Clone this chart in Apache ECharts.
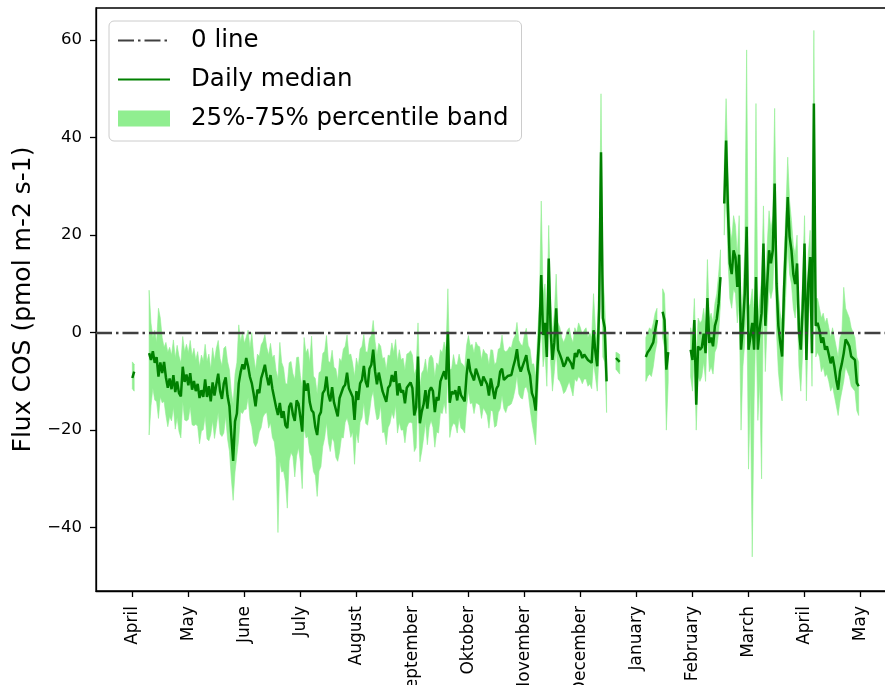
<!DOCTYPE html>
<html>
<head>
<meta charset="utf-8">
<script src="https://cdn.jsdelivr.net/npm/echarts@6/dist/echarts.min.js"></script>
<style>
html,body{margin:0;padding:0;background:#fff;}
#c{width:885px;height:685px;}
</style>
</head>
<body>
<div id="c"></div>
<script>
// x tick positions (day index) and labels
const tickDays = [0, 30, 60, 90, 120, 150, 180, 210, 240, 270, 300, 330, 360, 390];
const tickLabels = ['April', 'May', 'June', 'July', 'August', 'September', 'Oktober', 'November', 'December', 'January', 'February', 'March', 'April', 'May'];
const yTicks = [-40, -20, 0, 20, 40, 60];

// daily median (index = day since first April tick)
const median = [
-9.3,-8.0,null,null,null,null,null,null,null,-4.2,
-5.6,-3.8,-6.2,-5.0,-9.0,-6.1,-8.3,-6.0,-9.2,-11.3,
-9.4,-11.6,-8.7,-12.2,-10.0,-12.4,-13.1,-7.0,-10.1,-8.6,
-10.8,-8.3,-11.7,-9.9,-12.0,-10.5,-13.4,-11.8,-13.2,-9.6,
-13.2,-11.0,-14.1,-10.2,-12.9,-10.6,-8.4,-12.0,-13.6,-10.4,
-9.2,-13.0,-15.1,-21.0,-26.3,-18.2,-16.6,-10.4,-8.1,-6.5,
-7.5,-5.2,-6.9,-9.1,-10.4,-12.6,-15.1,-11.7,-12.4,-9.4,
-8.1,-6.6,-9.0,-10.8,-8.7,-11.5,-11.4,-15.3,-16.9,-14.4,
-17.5,-16.1,-19.0,-19.6,-15.2,-14.4,-16.8,-18.1,-13.9,-14.6,
-17.3,-20.3,-9.8,-11.9,-10.4,-14.2,-15.9,-16.4,-19.4,-21.0,
-17.1,-16.3,-12.4,-11.8,-9.0,-12.7,-14.1,-11.2,-14.3,-14.6,
-17.2,-13.4,-13.5,-11.2,-10.7,-8.2,-11.4,-11.0,-13.2,-17.9,
-12.0,-13.8,-10.4,-9.7,-6.8,-10.1,-11.2,-7.4,-6.6,-3.5,
-7.9,-10.6,-8.2,-8.4,-12.0,-11.6,-14.2,-11.3,-10.8,-8.7,
-10.1,-7.9,-12.9,-10.4,-12.3,-11.8,-14.5,-11.3,-10.9,-10.2,
-11.4,-17.0,-15.3,-4.9,-18.6,-16.2,-14.7,-11.8,-15.6,-12.0,
-11.2,-12.0,-16.3,-13.2,-13.9,-10.0,-10.4,-7.9,-9.6,0.2,
-14.4,-12.1,-12.6,-11.8,-13.9,-11.0,-12.8,-13.0,-14.1,-8.7,
-5.4,-7.9,-7.6,-9.8,-7.4,-8.5,-8.3,-10.9,-9.0,-9.8,
-10.6,-12.9,-9.4,-9.7,-13.6,-11.5,-10.8,-8.0,-7.4,-9.7,
-10.0,-8.9,-8.5,-8.7,-7.0,-5.6,-3.4,-6.7,-8.0,-7.6,
-5.8,-4.6,-7.5,-8.8,-12.4,-13.5,-16.0,-7.0,0.0,11.8,
-0.5,2.0,-5.0,15.2,0.7,-5.6,-2.0,5.0,-3.5,-4.5,
-5.6,-7.0,-6.3,-5.0,-4.9,-6.3,-7.5,-4.2,-5.0,-3.5,
-4.0,-5.2,-4.5,-4.2,-5.6,-5.5,-6.2,0.5,-4.0,-6.9,
5.0,37.0,3.0,1.0,-10.0,null,null,null,null,-5.2,
-5.6,-6.0,null,null,null,null,null,null,null,null,
null,null,null,null,null,-5.0,-4.0,-3.5,-3.8,-2.0,
0.5,2.6,null,null,4.3,2.6,-7.6,-4.0,null,null,
null,null,null,null,null,null,null,null,null,-3.5,
-5.6,2.6,-14.8,-2.8,-3.5,-3.0,-0.2,-4.2,7.1,-2.1,
-1.0,-2.8,1.4,2.8,6.0,11.4,null,26.5,39.4,25.0,
14.2,12.0,16.9,15.5,9.4,16.0,-3.5,1.4,8.0,21.7,
-3.5,-0.9,2.0,-3.5,11.4,-3.5,0.8,4.0,18.3,1.4,
10.0,16.9,14.2,16.9,30.6,10.0,1.4,-2.1,-4.9,8.7,
18.0,27.8,19.7,16.9,12.0,10.0,14.2,0.5,-3.5,5.0,
18.3,-5.6,10.0,15.5,-4.2,47.0,1.4,2.0,0.5,-2.1,
-1.0,-3.5,-2.8,-4.5,-6.3,-4.9,-7.0,-9.7,-11.7,-8.0,
-6.3,-4.2,-1.4,-2.0,-2.8,-4.9,-5.0,-5.6,-10.3,-11.0
];

// 75th percentile
const q75 = [
-6.0,-6.5,null,null,null,null,null,null,null,8.7,
2.0,-1.0,0.5,-2.0,5.0,3.0,-1.0,-3.0,-2.0,-4.0,
-3.0,-4.6,-1.5,-5.2,-2.6,-4.8,-6.2,-0.8,-3.9,-2.4,
-4.1,-1.6,-4.8,-3.2,-5.6,-3.9,-7.0,-4.6,-5.8,-2.4,
-5.9,-4.4,-7.5,-3.1,-5.7,-3.2,-1.6,-5.3,-6.8,-3.2,
-2.8,-5.9,-7.6,-12.0,-14.6,-8.5,-6.1,1.6,-1.9,0.2,
-2.2,-0.9,0.5,-3.1,0.0,-4.8,-7.6,-4.4,-4.9,-2.5,
-1.8,-0.4,-3.0,-4.6,-2.2,-5.1,-4.6,-7.8,-9.4,-2.0,
-6.1,-7.2,-10.4,-10.6,-6.2,-5.9,-8.4,-9.6,-5.1,-5.0,
-8.8,-11.4,-1.0,-4.2,-3.3,-6.1,-0.7,-8.9,-9.4,-12.6,
-8.2,-7.9,-4.3,-3.8,-0.6,-5.8,-6.2,-3.6,-7.1,-7.4,
-9.8,-5.3,-5.9,-3.4,-2.8,-0.5,-4.6,-4.4,-6.3,-9.0,
-5.2,-6.9,-3.4,-2.8,-0.4,-3.9,-4.0,-1.2,-0.6,2.5,
-1.8,-4.6,-2.2,-2.8,-5.3,-5.1,-7.6,-4.6,-4.8,-2.1,
-4.1,-1.4,-5.9,-3.5,-5.6,-5.2,-7.7,-4.4,-4.2,-3.7,
-4.6,-8.6,-7.4,2.0,-11.2,-8.3,-7.6,-5.4,-8.5,-5.2,
-4.6,-5.3,-9.1,-6.2,-6.8,-3.5,-4.1,-1.9,-3.6,9.0,
-7.6,-7.4,-4.5,-6.6,-6.6,-4.4,-6.2,-6.5,-7.2,-2.6,
-0.6,-2.7,-2.4,-4.2,-1.9,-2.7,-2.9,-5.6,-3.4,-4.2,
-4.4,-6.6,-3.5,-3.6,-6.6,-6.0,-3.4,-3.1,-0.5,-3.6,
-3.9,-3.6,-2.9,-3.1,-1.4,-0.6,2.1,-1.6,-2.4,-2.7,
-0.4,0.9,-2.6,-3.4,-6.5,-6.4,-9.0,-1.0,6.0,27.0,
8.0,10.0,2.0,22.0,7.0,0.0,4.0,12.0,2.0,1.0,
-1.0,-2.0,-1.0,0.5,1.0,-1.0,-2.0,1.0,0.0,2.0,
1.0,-0.5,0.5,1.0,-1.0,0.0,-1.0,8.0,1.0,-2.0,
14.0,49.0,12.0,6.0,-4.0,null,null,null,null,-4.0,
-4.2,-4.5,null,null,null,null,null,null,null,null,
null,null,null,null,null,-1.0,0.0,1.0,0.5,2.0,
4.0,5.0,null,null,9.0,8.0,-2.0,0.0,null,null,
null,null,null,null,null,null,null,null,null,1.0,
-1.0,7.0,-6.0,3.0,2.0,2.5,5.0,1.0,15.0,3.0,
4.0,2.0,6.0,8.0,12.0,17.0,null,34.0,48.0,33.0,
22.0,19.0,24.0,22.0,16.0,24.0,3.0,8.0,17.0,58.0,
5.0,6.0,9.0,3.0,47.0,3.0,7.0,11.0,26.0,8.0,
18.0,25.0,21.0,24.0,46.0,17.0,8.0,4.0,2.0,15.0,
25.0,36.0,27.0,23.0,18.0,16.0,20.0,6.0,2.0,11.0,
24.0,1.0,16.0,21.0,2.0,62.0,7.0,7.0,5.0,3.0,
4.0,2.0,3.0,1.0,-1.0,1.0,-1.0,-3.0,-5.0,-1.0,
0.0,9.3,5.0,4.0,3.0,1.0,0.0,-1.0,-5.0,-6.0
];

// 25th percentile
const q25 = [
-11.5,-12.0,null,null,null,null,null,null,null,-21.0,
-15.0,-11.4,-13.8,-14.2,-17.6,-13.2,-14.4,-14.1,-17.0,-19.3,
-17.2,-18.1,-15.3,-19.8,-17.4,-20.3,-21.6,-14.2,-17.9,-18.1,
-17.8,-15.2,-18.9,-19.1,-18.8,-19.2,-22.8,-20.2,-19.9,-17.1,
-21.8,-22.2,-20.9,-18.1,-21.7,-19.2,-16.4,-20.8,-21.3,-20.6,
-17.2,-21.8,-24.3,-29.8,-34.4,-28.6,-25.2,-21.7,-16.3,-16.6,
-15.8,-15.7,-13.3,-17.8,-19.3,-22.6,-23.4,-22.6,-20.4,-19.5,
-17.3,-16.6,-16.4,-19.6,-18.5,-21.5,-22.4,-25.6,-41.0,-26.4,
-28.6,-28.4,-30.6,-36.0,-26.3,-24.6,-25.4,-29.6,-25.3,-23.6,
-26.5,-32.0,-19.4,-21.6,-21.3,-24.6,-25.4,-28.5,-29.3,-33.6,
-28.4,-27.5,-23.4,-21.6,-18.5,-22.5,-24.4,-21.6,-22.4,-25.6,
-26.4,-24.5,-21.5,-21.6,-18.4,-17.5,-19.0,-21.5,-20.4,-27.0,
-20.5,-22.6,-18.4,-17.5,-14.4,-18.6,-19.0,-16.5,-13.4,-12.0,
-15.6,-17.9,-17.6,-14.9,-20.5,-20.4,-23.0,-19.5,-18.6,-16.4,
-17.6,-14.9,-20.6,-18.4,-20.0,-19.9,-22.6,-19.4,-18.5,-18.4,
-18.6,-24.4,-23.6,-12.0,-26.5,-24.4,-21.6,-18.4,-23.0,-19.4,
-18.0,-19.4,-23.5,-20.4,-20.6,-16.4,-16.6,-14.4,-16.6,-8.0,
-21.5,-19.4,-18.6,-18.9,-20.6,-17.4,-19.6,-19.9,-20.6,-15.4,
-12.0,-14.6,-14.4,-16.6,-14.4,-14.6,-14.9,-17.6,-15.4,-16.1,
-16.9,-19.6,-15.9,-16.1,-19.4,-19.1,-16.4,-15.6,-12.9,-15.6,
-16.4,-15.1,-14.9,-14.6,-13.4,-11.6,-8.9,-12.6,-13.4,-13.6,
-11.4,-11.1,-12.4,-15.6,-18.4,-20.6,-23.0,-14.0,-6.0,2.0,
-7.0,-4.0,-11.0,5.0,-6.0,-12.0,-8.0,-3.0,-9.5,-10.0,
-11.0,-12.5,-12.0,-11.0,-10.0,-11.5,-13.0,-9.5,-10.0,-9.0,
-9.5,-10.5,-9.5,-9.5,-11.0,-10.5,-11.5,-6.0,-9.0,-12.0,
-4.0,22.0,-5.0,-6.0,-16.4,null,null,null,null,-7.5,
-8.0,-8.5,null,null,null,null,null,null,null,null,
null,null,null,null,null,-10.0,-9.0,-8.5,-9.0,-7.0,
-4.0,-2.0,null,null,-1.0,-3.0,-20.0,-10.0,null,null,
null,null,null,null,null,null,null,null,null,-9.0,
-12.0,-4.0,-20.0,-9.0,-10.0,-9.0,-6.0,-10.0,1.0,-8.0,
-7.0,-8.5,-4.0,-3.0,0.0,6.0,null,20.0,30.0,15.0,
7.0,5.0,9.0,8.0,2.0,6.0,-20.0,-7.0,-2.0,10.0,
-28.0,-12.0,-46.0,-14.0,3.0,-18.0,-10.0,-30.0,9.0,-8.0,
2.0,9.0,7.0,9.0,20.0,0.0,-8.0,-12.0,-14.0,0.0,
8.0,18.0,12.0,10.0,5.0,3.0,7.0,-7.0,-12.0,-4.0,
10.0,-14.0,2.0,8.0,-11.0,20.0,-5.0,-4.0,-5.0,-8.0,
-7.0,-9.0,-8.5,-10.0,-12.0,-11.0,-13.0,-15.0,-17.0,-14.0,
-12.0,-10.0,-7.0,-8.0,-9.0,-11.0,-11.5,-12.0,-16.0,-17.0
];

if (median.length !== 390 || q75.length !== 390 || q25.length !== 390) {
  console.error('length mismatch', median.length, q75.length, q25.length);
}

const FONT = 'DejaVu Sans';
const medianData = median.map((v, i) => [i, v == null ? '-' : v]);

// contiguous runs of days with a percentile band (found from the nulls)
const segments = [];
let runStart = -1;
for (let i = 0; i <= q25.length; i++) {
  const ok = i < q25.length && q25[i] != null && q75[i] != null;
  if (ok && runStart < 0) runStart = i;
  if (!ok && runStart >= 0) {
    let lo = Infinity, hi = -Infinity;
    for (let j = runStart; j < i; j++) { lo = Math.min(lo, q25[j]); hi = Math.max(hi, q75[j]); }
    segments.push([runStart, i - 1, lo, hi]);
    runStart = -1;
  }
}

const zeroStyle = { color: '#404040', width: 2.4, type: [16, 4, 2.5, 4] };

const chart = echarts.init(document.getElementById('c'), null, { renderer: 'canvas' });
chart.setOption({
  animation: false,
  backgroundColor: '#ffffff',
  grid: {
    left: 96, right: -10, top: 8, bottom: 94,
    containLabel: false, outerBoundsMode: 'none',
    show: true, borderColor: '#000', borderWidth: 1.3, backgroundColor: 'transparent'
  },
  legend: {
    left: 109, top: 21, orient: 'vertical',
    itemWidth: 52, itemHeight: 16, itemGap: 14,
    padding: [7, 13, 10, 8],
    backgroundColor: 'rgba(255,255,255,0.85)',
    borderColor: '#cccccc', borderWidth: 1, borderRadius: 5,
    textStyle: { fontFamily: FONT, fontSize: 24.5, color: '#000', lineHeight: 24, padding: [0, 0, 0, 16] },
    data: [
      { name: '0 line', itemStyle: { opacity: 0 } },
      { name: 'Daily median', itemStyle: { opacity: 0 } },
      { name: '25%-75% percentile band', icon: 'rect', itemStyle: { color: '#90ee90' } }
    ]
  },
  xAxis: {
    type: 'value', min: -19.45, max: 408.45,
    splitLine: { show: false },
    axisLine: { show: true, onZero: false, lineStyle: { color: '#000', width: 1.3 } },
    axisTick: { show: true, customValues: tickDays, length: 6, lineStyle: { color: '#000', width: 1.3 } },
    axisLabel: {
      customValues: tickDays, rotate: 90, margin: 15,
      fontFamily: FONT, fontSize: 17, color: '#000',
      padding: [0, 0, 6, 0],
      formatter: v => tickLabels[tickDays.indexOf(v)]
    }
  },
  yAxis: {
    type: 'value', min: -53.0, max: 66.6,
    name: 'Flux COS (pmol m-2 s-1)', nameLocation: 'middle', nameGap: 59,
    nameTextStyle: { fontFamily: FONT, fontSize: 25, color: '#000' },
    splitLine: { show: false },
    axisLine: { show: true, onZero: false, lineStyle: { color: '#000', width: 1.3 } },
    axisTick: { show: true, customValues: yTicks, length: 6, lineStyle: { color: '#000', width: 1.3 } },
    axisLabel: {
      customValues: yTicks, margin: 14,
      fontFamily: FONT, fontSize: 16.5, color: '#000',
      formatter: v => String(v).replace('-', '\u2212')
    }
  },
  series: [
    {
      name: '25%-75% percentile band', type: 'custom',
      itemStyle: { color: '#90ee90' },
      dimensions: ['start', 'end', 'lo', 'hi'],
      encode: { x: ['start', 'end'], y: ['lo', 'hi'] },
      data: segments,
      silent: true, clip: true, z: 1,
      renderItem: function (params, api) {
        const seg = segments[params.dataIndex];
        const pts = [];
        for (let i = seg[0]; i <= seg[1]; i++) pts.push(api.coord([i, q75[i]]));
        for (let i = seg[1]; i >= seg[0]; i--) pts.push(api.coord([i, q25[i]]));
        return { type: 'polygon', shape: { points: pts }, style: { fill: '#90ee90', stroke: '#90ee90', lineWidth: 0.6 } };
      }
    },
    {
      name: '0 line', type: 'line', data: [], symbol: 'none',
      color: '#404040', lineStyle: zeroStyle, z: 3,
      markLine: {
        silent: true, symbol: 'none', label: { show: false },
        lineStyle: zeroStyle, data: [{ yAxis: 0 }], animation: false
      }
    },
    {
      name: 'Daily median', type: 'line', data: medianData,
      color: '#008000', symbol: 'none', connectNulls: false,
      lineStyle: { color: '#008000', width: 2.5 }, z: 4
    }
  ]
});
</script>
</body>
</html>
